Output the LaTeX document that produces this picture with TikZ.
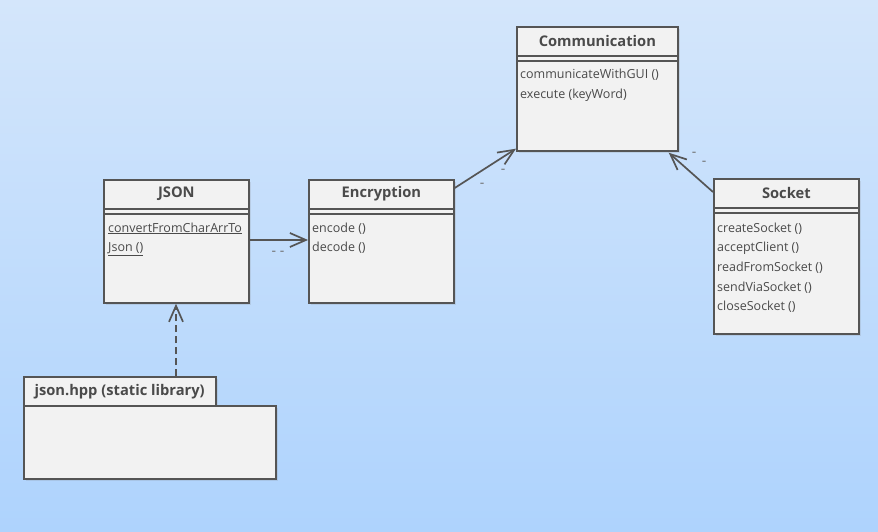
\documentclass[tikz,border=0pt]{standalone}
\usepackage{fontspec}
\setmainfont{Open Sans}
\usepackage{tikz}
\usetikzlibrary{arrows.meta,shadows}

\definecolor{bgtop}{HTML}{D4E6FB}
\definecolor{bgbot}{HTML}{AED3FD}
\definecolor{boxfill}{HTML}{F2F2F2}
\definecolor{boxline}{HTML}{555555}
\definecolor{txt}{HTML}{4A4A4A}

\tikzset{
  classbox/.style={draw=boxline, line width=1.7pt, fill=boxfill, anchor=north west,
    inner sep=0pt, drop shadow={opacity=0.18, shadow xshift=2pt, shadow yshift=-2pt}},
  sepline/.style={draw=boxline, line width=1.5pt},
  classname/.style={font=\fontsize{14.7}{16}\selectfont\bfseries, text=txt},
  methods/.style={font=\fontsize{12.5}{15}\selectfont, text=txt, anchor=base west,
    inner sep=0pt},
  link/.style={draw=boxline, line width=1.7pt, -{Straight Barb[length=16pt, width=14pt, line width=1.7pt]}},
  tick/.style={font=\fontsize{14}{14}\selectfont, text=txt!80}
}

\begin{document}
\begin{tikzpicture}[x=1pt, y=-1pt]
  \shade[top color=bgtop, bottom color=bgbot] (0,0) rectangle (878,532);
  \useasboundingbox (0,0) rectangle (878,532);

  % classes
  \node[classbox, minimum width=145pt, minimum height=123pt] (json) at (103,179) {};
  \node[classbox, minimum width=145pt, minimum height=123pt] (encr) at (308,179) {};
  \node[classbox, minimum width=161pt, minimum height=124pt] (comm) at (516,26) {};
  \node[classbox, minimum width=145pt, minimum height=155pt] (sock) at (713,178) {};

  \foreach \c in {json,encr,comm,sock}{
    \draw[sepline] ([yshift=-30pt]\c.north west) -- ([yshift=-30pt]\c.north east);
    \draw[sepline] ([yshift=-35pt]\c.north west) -- ([yshift=-35pt]\c.north east);
  }

  \node[classname] (jsont) at ([yshift=-15pt]json.north) {JSON};
  \node[classname] (encrt) at ([yshift=-15pt]encr.north) {Encryption};
  \node[classname] (commt) at ([yshift=-15pt]comm.north) {Communication};
  \node[classname] (sockt) at ([yshift=-15pt]sock.north) {Socket};

  % operations, one line each
  \foreach \m [count=\i] in {\underline{convertFromCharArrTo},\underline{Json ()}}
    \node[methods] (json-\i) at ([xshift=5pt,yshift={-53pt-(\i-1)*19.7pt}]json.north west) {\m};
  \foreach \m [count=\i] in {encode (),decode ()}
    \node[methods] (encr-\i) at ([xshift=4pt,yshift={-53pt-(\i-1)*19.7pt}]encr.north west) {\m};
  \foreach \m [count=\i] in {communicateWithGUI (),execute (keyWord)}
    \node[methods] (comm-\i) at ([xshift=4pt,yshift={-53pt-(\i-1)*19.7pt}]comm.north west) {\m};
  \foreach \m [count=\i] in {createSocket (),acceptClient (),readFromSocket (),sendViaSocket (),closeSocket ()}
    \node[methods] (sock-\i) at ([xshift=4pt,yshift={-54pt-(\i-1)*19.7pt}]sock.north west) {\m};

  % package
  \node[classbox, minimum width=192pt, minimum height=29pt] (pkgtab) at (23,376) {};
  \node[classbox, minimum width=252pt, minimum height=73pt] (pkg) at (23,405) {};
  \node[classname, anchor=west] (pkgt) at ([xshift=8pt]pkgtab.west) {json.hpp (static library)};

  % connectors
  \coordinate (jsonout) at ([yshift=-61pt]json.north east);
  \coordinate (encrin) at ([yshift=-61pt]encr.north west);
  \draw[link] (jsonout) -- (encrin);
  \node[tick] (t1) at (278,253) {- -};

  \coordinate (encrout) at ([yshift=-9pt]encr.north east);
  \coordinate (commin) at ([yshift=3pt]comm.south west);
  \draw[link] (encrout) -- (commin);
  \node[tick] (t2) at (482,185) {-};
  \node[tick] (t3) at (503,171) {-};

  \coordinate (sockout) at ([yshift=-14pt]sock.north west);
  \coordinate (commin2) at ([xshift=-10pt,yshift=-1pt]comm.south east);
  \draw[link] (sockout) -- (commin2);
  \node[tick] (t4) at (694,154) {-};
  \node[tick] (t5) at (704,163) {-};

  \coordinate (pkgup) at (pkgtab.north -| 176,0);
  \draw[link, dash pattern=on 7pt off 4pt] (pkgup) -- (pkgup |- json.south);
\end{tikzpicture}
\end{document}
